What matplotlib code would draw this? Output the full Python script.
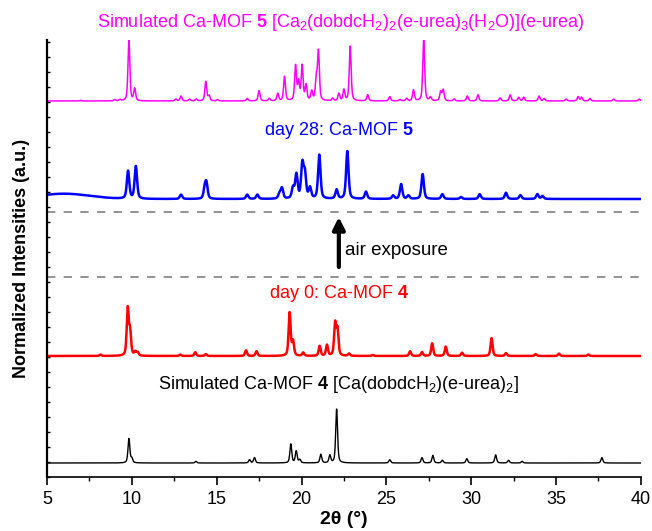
import numpy as np
import matplotlib.pyplot as plt
from matplotlib.ticker import MultipleLocator

plt.rcParams['font.family'] = ['Liberation Sans', 'DejaVu Sans']
plt.rcParams['mathtext.fontset'] = 'custom'
plt.rcParams['mathtext.rm'] = 'Liberation Sans'
plt.rcParams['mathtext.bf'] = 'Liberation Sans:bold'
plt.rcParams['mathtext.default'] = 'regular'

## PEAK LISTS: 2theta (deg) and relative height
sim5_pos = [7.0, 9.0, 9.3, 9.83, 10.17, 12.6, 12.9, 13.4, 13.8, 14.36, 14.55, 15.05,
            16.8, 17.5, 18.1, 18.6, 19.0, 19.65, 19.83, 20.04, 20.27, 20.6, 20.87,
            21.0, 21.83, 22.2, 22.5, 22.87, 23.9, 25.2, 25.8, 26.2, 26.6, 27.2, 27.6,
            28.2, 28.35, 29.0, 29.77, 30.4, 31.7, 32.3, 32.8, 33.1, 34.0, 34.3, 35.6,
            36.3, 36.5, 37.0, 38.4, 39.9]
sim5_int = [0.01, 0.02, 0.02, 1.0, 0.2, 0.03, 0.08, 0.03, 0.03, 0.32, 0.08, 0.02,
            0.04, 0.17, 0.04, 0.12, 0.4, 0.57, 0.3, 0.57, 0.25, 0.15, 0.35,
            0.8, 0.04, 0.12, 0.18, 0.9, 0.1, 0.07, 0.02, 0.04, 0.18, 1.0, 0.06,
            0.15, 0.18, 0.03, 0.08, 0.1, 0.05, 0.1, 0.06, 0.06, 0.08, 0.04, 0.03,
            0.07, 0.06, 0.04, 0.03, 0.03]

day28_pos = [9.78, 10.24, 12.9, 14.3, 14.4, 16.8, 17.4, 18.7, 18.85, 19.5, 19.7,
             20.05, 20.2, 20.5, 21.05, 22.07, 22.7, 23.8, 25.4, 25.87, 26.3, 27.14,
             28.3, 29.4, 30.5, 32.05, 32.9, 33.9, 34.2]
day28_int = [0.58, 0.68, 0.09, 0.2, 0.3, 0.09, 0.09, 0.1, 0.22, 0.22, 0.5,
             0.7, 0.5, 0.22, 0.92, 0.19, 1.0, 0.15, 0.07, 0.31, 0.07, 0.52,
             0.1, 0.04, 0.1, 0.13, 0.08, 0.1, 0.06]
# broad low-angle background hump on the day 28 scan (centre, height)
day28_hump = (6.0, 0.11)

day0_pos = [8.15, 9.76, 9.9, 10.2, 10.35, 12.86, 13.74, 14.36, 16.73, 17.35, 19.3,
            19.5, 20.1, 21.07, 21.5, 21.98, 22.12, 22.8, 24.2, 26.4, 27.1, 27.7,
            28.5, 29.46, 31.2, 32.05, 33.8, 35.17, 36.9]
day0_int = [0.03, 1.0, 0.5, 0.08, 0.07, 0.03, 0.08, 0.04, 0.12, 0.1, 0.92,
            0.3, 0.07, 0.21, 0.23, 0.68, 0.55, 0.05, 0.02, 0.1, 0.08, 0.27,
            0.2, 0.07, 0.38, 0.06, 0.04, 0.05, 0.03]

sim4_pos = [9.83, 10.0, 13.78, 16.94, 17.23, 19.37, 19.69, 19.9, 21.14, 21.67,
            22.07, 25.2, 27.1, 27.74, 28.3, 29.74, 31.44, 32.2, 33.0, 37.7]
sim4_int = [0.45, 0.08, 0.03, 0.06, 0.1, 0.35, 0.22, 0.06, 0.16, 0.14,
            1.0, 0.06, 0.1, 0.14, 0.05, 0.08, 0.15, 0.05, 0.03, 0.1]

x_ticks = [5, 10, 15, 20, 25, 30, 35, 40]

two_theta = np.linspace(5, 40, 3501)


def pattern(pos, inten, fwhm):
    # pseudo-Voigt peaks, normalised to max = 1
    y = np.zeros_like(two_theta)
    hw = fwhm / 2
    for p, h in zip(pos, inten):
        d = (two_theta - p) / hw
        y += h * (0.5 / (1 + d ** 2) + 0.5 * np.exp(-np.log(2) * d ** 2))
    return y / y.max()


sim5 = pattern(sim5_pos, sim5_int, 0.13)
day28 = pattern(day28_pos, day28_int, 0.17)
day28 = day28 + day28_hump[1] * np.exp(-0.5 * ((two_theta - day28_hump[0]) / 1.5) ** 2)
day0 = pattern(day0_pos, day0_int, 0.14)
sim4 = pattern(sim4_pos, sim4_int, 0.13)

fig = plt.figure(figsize=(6.52, 5.31), dpi=100)
ax = fig.add_axes([0.072, 0.1017, 0.911, 0.823])

# stacked: offset, scale (in the axes' vertical units)
ax.plot(two_theta, 14 + 54 * sim4, color='black', lw=1.0)
ax.plot(two_theta, 121 + 50 * day0, color='#ff0000', lw=1.8)
ax.plot(two_theta, 278 + 48 * day28, color='#0000ff', lw=1.8)
ax.plot(two_theta, 376 + 61 * sim5, color='#ff00ff', lw=1.1)

ax.axhline(265, color='#808080', lw=1.2, ls=(0, (5, 5)))
ax.axhline(200, color='#808080', lw=1.2, ls=(0, (5, 5)))

ax.annotate('', xy=(22.2, 260), xytext=(22.2, 210),
            arrowprops=dict(arrowstyle='-|>', color='black', lw=3,
                            mutation_scale=18, shrinkA=0, shrinkB=0))
ax.text(22.55, 222, 'air exposure', fontsize=13.5, ha='left', va='baseline')

ax.text(22.3, 450, r'Simulated Ca-MOF $\mathbf{5}$ [Ca$_2$(dobdcH$_2$)$_2$(e-urea)$_3$(H$_2$O)](e-urea)',
        color='#ff00ff', fontsize=13, ha='center', va='baseline', clip_on=False)
ax.text(22.2, 342, r'day 28: Ca-MOF $\mathbf{5}$', color='#0000ff', fontsize=13,
        ha='center', va='baseline')
ax.text(22.2, 179, r'day 0: Ca-MOF $\mathbf{4}$', color='#ff0000', fontsize=13,
        ha='center', va='baseline')
ax.text(22.2, 88, r'Simulated Ca-MOF $\mathbf{4}$ [Ca(dobdcH$_2$)(e-urea)$_2$]',
        color='black', fontsize=13, ha='center', va='baseline')

ax.set_xlim(5, 40)
ax.set_ylim(0, 437)
ax.set_xticks(x_ticks)
ax.xaxis.set_minor_locator(MultipleLocator(2.5))
ax.yaxis.set_major_locator(MultipleLocator(15))
ax.tick_params(axis='x', which='major', direction='out', length=6, width=1.2, labelsize=13, pad=4)
ax.tick_params(axis='x', which='minor', direction='out', length=3, width=1.0)
ax.tick_params(axis='y', which='major', direction='in', length=2.5, width=1.0, labelleft=False)

for side in ['top', 'right']:
    ax.spines[side].set_visible(False)
ax.spines['left'].set_linewidth(1.6)
ax.spines['bottom'].set_linewidth(1.2)

ax.set_xlabel('2θ (°)', fontsize=14, fontweight='bold', labelpad=2)
ax.set_ylabel('Normalized Intensities (a.u.)', fontsize=13, fontweight='bold', labelpad=12)

fig.savefig('out.png', dpi=100)
